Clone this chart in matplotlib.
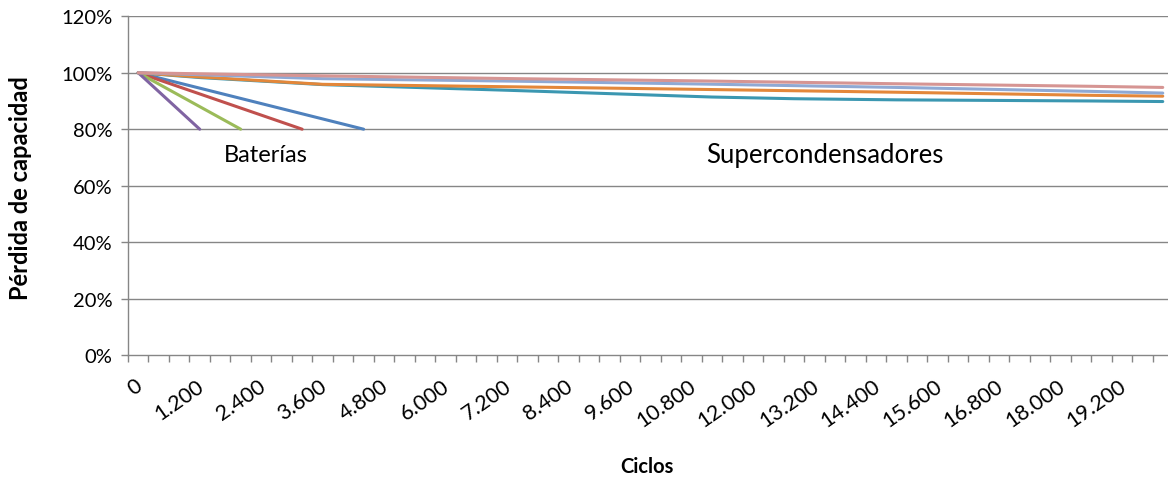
import matplotlib
matplotlib.use("Agg")
import matplotlib.pyplot as plt
from matplotlib.ticker import FixedLocator, PercentFormatter
from matplotlib.transforms import ScaledTranslation

plt.rcParams['font.family'] = ['Lato', 'DejaVu Sans']

# Cycle-life data (fraction of initial capacity vs. cycles)
bat_cycles = [[0, 4400], [0, 3200], [0, 2000], [0, 1200]]
bat_values = [[1.0, 0.8], [1.0, 0.8], [1.0, 0.8], [1.0, 0.8]]
bat_colors = ['#4F81BD', '#C0504D', '#9BBB59', '#8064A2']

teal_cycles = [0, 1200, 3600, 7200, 11200, 12800, 14800, 18600, 20000]
teal_values = [1.000, 0.983, 0.958, 0.938, 0.914, 0.908, 0.904, 0.900, 0.898]

orange_cycles = [0, 1200, 3600, 7400, 11000, 14800, 18600, 20000]
orange_values = [1.000, 0.985, 0.959, 0.950, 0.941, 0.931, 0.920, 0.917]

lblue_cycles = [0, 3600, 7400, 11000, 14800, 18600, 20000]
lblue_values = [1.000, 0.979, 0.970, 0.960, 0.948, 0.934, 0.928]

pink_cycles = [0, 3600, 7400, 11000, 14800, 18600, 20000]
pink_values = [1.000, 0.989, 0.979, 0.971, 0.961, 0.952, 0.948]

sc_series = [
    (teal_cycles, teal_values, '#3B97B1'),
    (orange_cycles, orange_values, '#E3873A'),
    (lblue_cycles, lblue_values, '#8FA9D4'),
    (pink_cycles, pink_values, '#D69593'),
]

step = 400
label_cycles = list(range(0, 19201, 1200))
tick_labels = [f"{c:,}".replace(",", ".") for c in label_cycles]

fig = plt.figure(figsize=(11.68, 4.81), dpi=100)
ax = fig.add_axes([128 / 1168, 125 / 481, 1045 / 1168, 338.7 / 481])

grid_c = '#868686'
for yv in [0.2, 0.4, 0.6, 0.8, 1.0, 1.2]:
    ax.axhline(yv, color=grid_c, lw=1.0, zorder=1)

for xs, ys, c in zip(bat_cycles, bat_values, bat_colors):
    ax.plot(xs, ys, color=c, lw=2.2, solid_capstyle='round', zorder=3)
for xs, ys, c in sc_series:
    ax.plot(xs, ys, color=c, lw=2.2, solid_capstyle='round', zorder=3)

ax.set_xlim(-step / 2, 20000 + step / 2)
ax.set_ylim(0, 1.2)

for s in ['top', 'right']:
    ax.spines[s].set_visible(False)
for s in ['left', 'bottom']:
    ax.spines[s].set_color(grid_c)
    ax.spines[s].set_linewidth(1.0)

# Ticks sit between categories; labels at every third category
ax.xaxis.set_major_locator(FixedLocator([-step / 2 + step * k for k in range(52)]))
ax.xaxis.set_major_formatter(plt.NullFormatter())
ax.set_xticks(label_cycles, tick_labels, minor=True, fontsize=15.5)
ax.tick_params(axis='x', which='major', direction='out', length=5, color=grid_c, width=1)
ax.tick_params(axis='x', which='minor', length=0, pad=24)
shift = ScaledTranslation(4 / 72, 0, fig.dpi_scale_trans)
for lbl in ax.get_xticklabels(minor=True):
    lbl.set_rotation(35)
    lbl.set_ha('right')
    lbl.set_va('baseline')
    lbl.set_rotation_mode('anchor')
    lbl.set_transform(lbl.get_transform() + shift)

ax.set_yticks([0, 0.2, 0.4, 0.6, 0.8, 1.0, 1.2])
ax.yaxis.set_major_formatter(PercentFormatter(1.0, decimals=0))
ax.tick_params(axis='y', direction='out', length=5, color=grid_c, width=1, labelsize=14.5, pad=6)

ax.text(2500, 0.712, 'Baterías', fontsize=17, ha='center', va='center')
ax.text(13400, 0.712, 'Supercondensadores', fontsize=18.5, ha='center', va='center')

fig.text(647 / 1168, 1 - 467 / 481, 'Ciclos', fontsize=14.5, fontweight='bold', ha='center', va='center')
fig.text(21 / 1168, 1 - 188 / 481, 'Pérdida de capacidad', fontsize=17, fontweight='bold',
         ha='center', va='center', rotation=90)

fig.savefig('out.png', dpi=100)
